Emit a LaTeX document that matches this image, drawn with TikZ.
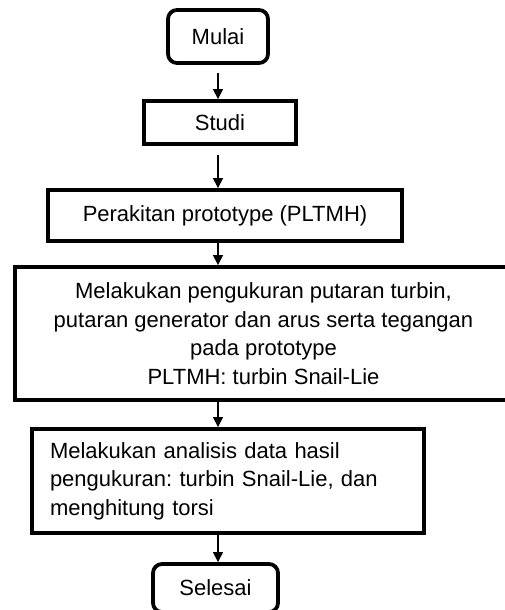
\documentclass[tikz,border=0pt]{standalone}
\usepackage{fontspec}
\setmainfont{Liberation Sans}
\usetikzlibrary{arrows.meta}
\frenchspacing
\begin{document}
\begin{tikzpicture}[x=1pt,y=-1pt,
  box/.style={draw, line width=3.8pt, inner sep=0pt, font=\fontsize{22}{28.5}\selectfont},
  term/.style={box, rounded corners=9pt},
  arr/.style={line width=1.2pt, -{Triangle[length=10pt,width=10pt]}}]
\clip (0,0) rectangle (505,610);
\node[term, minimum width=100, minimum height=53] (mulai) at (218,36.5) {Mulai};
\node[box, minimum width=152, minimum height=43] (studi) at (220,122.5) {Studi};
\node[box, minimum width=354, minimum height=51] (rakit) at (225,215.5) {Perakitan prototype (PLTMH)};
\node[box, minimum width=497, minimum height=133, align=center] (ukur) at (263.5,333.5)
  {Melakukan pengukuran putaran turbin,\\putaran generator dan arus serta tegangan\\pada prototype\\PLTMH: turbin Snail-Lie};
\node[box, text width=356, inner xsep=18, minimum height=104, align=left] (analisis) at (228,481)
  {Melakukan analisis data hasil\\pengukuran: turbin Snail-Lie, dan\\menghitung torsi};
\node[term, minimum width=125, minimum height=48] (selesai) at (215.5,588) {Selesai};
\draw[arr, shorten <=8pt] (mulai.south) -- (mulai.south |- studi.north);
\draw[arr, shorten <=9pt] (mulai.south |- studi.south) -- (mulai.south |- rakit.north);
\draw[arr] (mulai.south |- rakit.south) -- (mulai.south |- ukur.north);
\draw[arr] (mulai.south |- ukur.south) -- (mulai.south |- analisis.north);
\draw[arr] (mulai.south |- analisis.south) -- (mulai.south |- selesai.north);
\end{tikzpicture}
\end{document}
